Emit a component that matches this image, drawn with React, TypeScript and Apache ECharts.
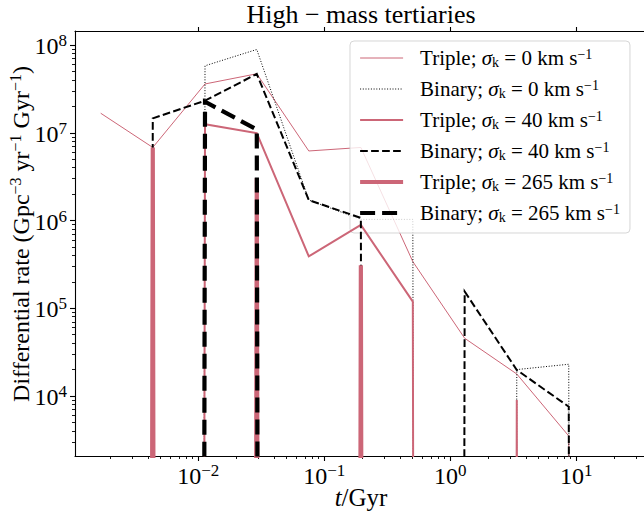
import React, { useEffect, useRef } from 'react';
import * as echarts from 'echarts';

// bin centres (Gyr)
const binCentres = [0.00168, 0.00435, 0.0113, 0.0291, 0.0753, 0.195, 0.504, 1.3, 3.37, 8.71, 22.6];
// differential rates (Gpc^-3 yr^-1 Gyr^-1); 0 = empty bin
const tripleK0 = [1.67e7, 6.8e6, 3.6e7, 4.7e7, 6.2e6, 6.8e6, 3.4e5, 4.55e4, 1.78e4, 3.5e3, 0];
const binaryK0 = [0, 0, 5.8e7, 8.9e7, 1.71e6, 1.03e6, 1.03e6, 0, 2.0e4, 2.3e4, 0];
const tripleK40 = [0, 0, 1.25e7, 9.9e6, 3.9e5, 8.9e5, 1.19e5, 0, 9.0e3, 0, 0];
const binaryK40 = [0, 1.46e7, 2.32e7, 4.68e7, 1.71e6, 1.07e6, 0, 1.55e5, 1.98e4, 7.55e3, 0];
const tripleK265 = [0, 6.8e6, 0, 3.05e6, 0, 3.1e5, 0, 0, 0, 0, 0];
const binaryK265 = [0, 0, 2.26e7, 1.09e7, 0, 0, 0, 0, 0, 0, 0];

const seriesNames = [
  'Triple; σk = 0 km s−1',
  'Binary; σk = 0 km s−1',
  'Triple; σk = 40 km s−1',
  'Binary; σk = 40 km s−1',
  'Triple; σk = 265 km s−1',
  'Binary; σk = 265 km s−1',
];
const legendKinds = ['Triple', 'Binary', 'Triple', 'Binary', 'Triple', 'Binary'];
const legendKicks = ['0', '0', '40', '40', '265', '265'];

const xMajorTicks = [0.01, 0.1, 1, 10];
const yMajorTicks = [1e4, 1e5, 1e6, 1e7, 1e8];
const minorMultipliers = [2, 3, 4, 5, 6, 7, 8, 9];

const X_MIN = 1.05e-3;
const X_MAX = 36.4;
const Y_MIN = 2070;
const Y_MAX = 1.445e8;

const xMinorTicks: number[] = [];
for (let e = -3; e <= 1; e++) for (const m of minorMultipliers) {
  const v = m * Math.pow(10, e);
  if (v > X_MIN && v < X_MAX) xMinorTicks.push(v);
}
const yMinorTicks: number[] = [];
for (let e = 3; e <= 8; e++) for (const m of minorMultipliers) {
  const v = m * Math.pow(10, e);
  if (v > Y_MIN && v < Y_MAX) yMinorTicks.push(v);
}

const FONT = '"Liberation Serif", "DejaVu Serif", serif';
const PINK = '#CC6677';
const LOG_ZERO = 1e-300; // log-scale clip of empty bins (drawn as near-vertical drops)

const lineWidths = [1, 1, 2, 2, 4.2, 4.2];
const lineTypes: any[] = ['solid', [1, 1.7], 'solid', [7.7, 3.3], 'solid', [15, 7]];
const lineColors = [PINK, '#000', PINK, '#000', PINK, '#000'];

const tickRich = {
  b: { fontSize: 24, fontFamily: FONT, color: '#000', lineHeight: 26, verticalAlign: 'bottom' },
  s: { fontSize: 17, fontFamily: FONT, color: '#000', lineHeight: 13, verticalAlign: 'top' },
};

const powLabel = (v: number) => {
  const e = Math.round(Math.log10(v));
  const es = e < 0 ? '−' + Math.abs(e) : String(e);
  return `{b|10}{s|${es}}`;
};

function mkSeries(i: number, vals: number[]) {
  return {
    name: seriesNames[i],
    type: 'line',
    xAxisIndex: 0,
    yAxisIndex: 0,
    data: binCentres.map((x, k) => [x, vals[k] > 0 ? vals[k] : LOG_ZERO]),
    symbol: 'none',
    showSymbol: false,
    clip: true,
    silent: true,
    z: 2 + i,
    lineStyle: { color: lineColors[i], width: lineWidths[i], type: lineTypes[i], cap: 'butt', join: 'miter' },
    itemStyle: { color: lineColors[i] },
    emphasis: { disabled: true },
  };
}

const axisLineStyle = { color: '#000', width: 1.1 };

export default function App() {
  const ref = useRef<HTMLDivElement>(null);
  useEffect(() => {
    if (!ref.current) return;
    const chart = echarts.init(ref.current, undefined, { renderer: 'svg' });
    const grid = { left: 75, top: 31, right: -3, bottom: 61, outerBoundsMode: 'none' };
    const option: any = {
      animation: false,
      backgroundColor: '#fff',
      grid: [grid, { ...grid }],
      xAxis: [
        {
          type: 'log', gridIndex: 0, position: 'bottom', min: X_MIN, max: X_MAX,
          axisLine: { show: true, onZero: false, lineStyle: axisLineStyle },
          axisTick: { show: true, customValues: xMajorTicks, length: 5, lineStyle: axisLineStyle },
          axisLabel: { show: true, customValues: xMajorTicks, formatter: powLabel, rich: tickRich, margin: 6, fontFamily: FONT, fontSize: 24, color: '#000' },
          splitLine: { show: false }, minorTick: { show: false },
        },
        {
          type: 'log', gridIndex: 0, position: 'top', min: X_MIN, max: X_MAX,
          axisLine: { show: true, onZero: false, lineStyle: axisLineStyle },
          axisTick: { show: true, customValues: xMajorTicks, length: 4, lineStyle: axisLineStyle },
          axisLabel: { show: false }, splitLine: { show: false },
        },
        {
          type: 'log', gridIndex: 1, position: 'bottom', min: X_MIN, max: X_MAX,
          axisLine: { show: false, onZero: false },
          axisTick: { show: true, customValues: xMinorTicks, length: 3, lineStyle: { color: '#000', width: 0.9 } },
          axisLabel: { show: false }, splitLine: { show: false },
        },
      ],
      yAxis: [
        {
          type: 'log', gridIndex: 0, position: 'left', min: Y_MIN, max: Y_MAX,
          axisLine: { show: true, onZero: false, lineStyle: axisLineStyle },
          axisTick: { show: true, customValues: yMajorTicks, length: 5, lineStyle: axisLineStyle },
          axisLabel: { show: true, customValues: yMajorTicks, formatter: powLabel, rich: tickRich, margin: 8, fontFamily: FONT, fontSize: 24, color: '#000' },
          splitLine: { show: false }, minorTick: { show: false },
        },
        {
          type: 'log', gridIndex: 0, position: 'right', min: Y_MIN, max: Y_MAX,
          axisLine: { show: true, onZero: false, lineStyle: axisLineStyle },
          axisTick: { show: false }, axisLabel: { show: false }, splitLine: { show: false },
        },
        {
          type: 'log', gridIndex: 1, position: 'left', min: Y_MIN, max: Y_MAX,
          axisLine: { show: false, onZero: false },
          axisTick: { show: true, customValues: yMinorTicks, length: 3, lineStyle: { color: '#000', width: 0.9 } },
          axisLabel: { show: false }, splitLine: { show: false },
        },
      ],
      legend: {
        data: seriesNames.map((name, i) => ({
          name,
          lineStyle: { width: lineWidths[i], type: lineTypes[i], color: lineColors[i] },
        })),
        orient: 'vertical',
        left: 350,
        top: 41,
        padding: [6, 10, 9, 8],
        itemWidth: 43,
        itemHeight: 14,
        itemGap: 9,
        backgroundColor: 'rgba(255,255,255,0.8)',
        borderColor: 'rgba(204,204,204,0.8)',
        borderWidth: 1,
        borderRadius: 4,
        selectedMode: false,
        itemStyle: { opacity: 0 },
        lineStyle: { width: 'inherit' },
        formatter: (name: string) => {
          const i = seriesNames.indexOf(name);
          return `{g| }{n|${legendKinds[i]}; }{i|σ}{sub|k}{n| = ${legendKicks[i]} km s}{sup|−1}`;
        },
        textStyle: {
          fontFamily: FONT, fontSize: 21, color: '#000',
          rich: {
            g: { width: 12, fontSize: 21, lineHeight: 22 },
            n: { fontFamily: FONT, fontSize: 21, color: '#000', lineHeight: 22 },
            i: { fontFamily: FONT, fontSize: 21, fontStyle: 'italic', color: '#000', lineHeight: 22 },
            sub: { fontFamily: FONT, fontSize: 14, color: '#000', lineHeight: 13, verticalAlign: 'bottom' },
            sup: { fontFamily: FONT, fontSize: 14, color: '#000', lineHeight: 13, verticalAlign: 'top' },
          },
        },
      },
      graphic: [
        {
          type: 'text', x: 361, y: 14, silent: true,
          style: { text: 'High − mass tertiaries', fontFamily: FONT, fontSize: 26, fill: '#000', align: 'center', verticalAlign: 'middle', textAlign: 'center', textVerticalAlign: 'middle' },
        },
        {
          type: 'text', x: 361, y: 497, silent: true,
          style: {
            text: '{i|t}{n|/Gyr}', fill: '#000', align: 'center', verticalAlign: 'middle', textAlign: 'center', textVerticalAlign: 'middle',
            rich: {
              i: { fontFamily: FONT, fontSize: 25, fontStyle: 'italic', fill: '#000' },
              n: { fontFamily: FONT, fontSize: 25, fill: '#000' },
            },
          },
        },
        {
          type: 'text', x: 20, y: 234, rotation: Math.PI / 2, silent: true,
          style: {
            text: '{n|Differential rate (Gpc}{s|−3}{n| yr}{s|−1}{n| Gyr}{s|−1}{n|)}', fill: '#000',
            align: 'center', verticalAlign: 'middle', textAlign: 'center', textVerticalAlign: 'middle',
            rich: {
              n: { fontFamily: FONT, fontSize: 24, fill: '#000', lineHeight: 26, verticalAlign: 'bottom' },
              s: { fontFamily: FONT, fontSize: 16, fill: '#000', lineHeight: 14, verticalAlign: 'top' },
            },
          },
        },
      ],
      series: [
        mkSeries(0, tripleK0),
        mkSeries(1, binaryK0),
        mkSeries(2, tripleK40),
        mkSeries(3, binaryK40),
        mkSeries(4, tripleK265),
        mkSeries(5, binaryK265),
      ],
    };
    chart.setOption(option);
    return () => chart.dispose();
  }, []);
  return <div ref={ref} style={{ position: 'fixed', left: 0, top: 0, width: 644, height: 517 }} />;
}
